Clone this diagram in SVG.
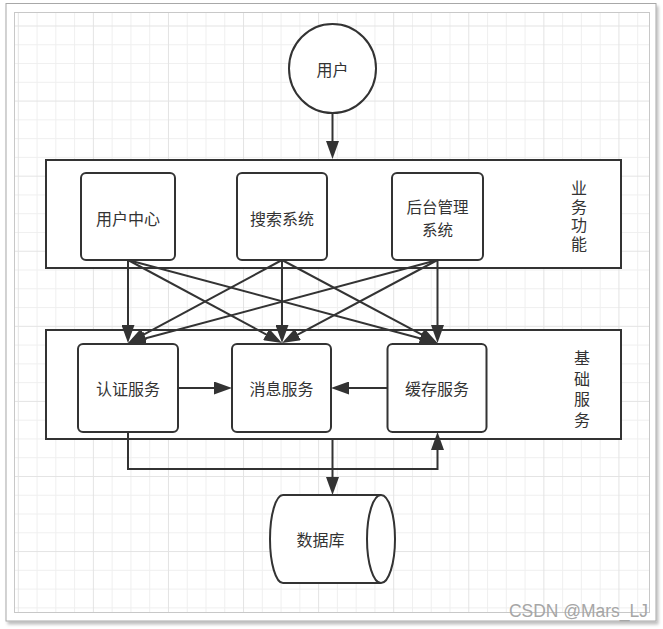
<svg xmlns="http://www.w3.org/2000/svg" width="663" height="629" viewBox="0 0 663 629">
<defs>
<style>
.box{fill:#fff;stroke:#333;stroke-width:2}
.line{fill:none;stroke:#333;stroke-width:2}
.t{font-family:"Noto Sans CJK SC","Liberation Sans",sans-serif;font-size:16px;fill:#333;text-anchor:middle;dominant-baseline:central}
.v{font-family:"Noto Sans CJK SC","Liberation Sans",sans-serif;font-size:16px;fill:#333;text-anchor:middle;writing-mode:vertical-rl}
</style>
<pattern id="grid" x="17.8" y="25.5" width="75.08" height="75.08" patternUnits="userSpaceOnUse">
<path d="M0.5,0V75.08M19.27,0V75.08M38.04,0V75.08M56.81,0V75.08M0,0.5H75.08M0,19.27H75.08M0,38.04H75.08M0,56.81H75.08" stroke="#efefef" stroke-width="1" fill="none"/>
<path d="M0.5,0V75.08M0,0.5H75.08" stroke="#e3e3e3" stroke-width="1" fill="none"/>
</pattern>
<marker id="arr" markerUnits="userSpaceOnUse" markerWidth="18" markerHeight="13" refX="14" refY="6.5" orient="auto">
<path d="M0,0L18,6.5L0,13z" fill="#333"/>
</marker>
<filter id="sh" x="-5%" y="-5%" width="110%" height="110%">
<feDropShadow dx="2" dy="3" stdDeviation="1.5" flood-color="#000" flood-opacity="0.25"/>
</filter>
</defs>
<rect x="0" y="0" width="663" height="629" fill="#fff"/>
<rect x="6" y="3.5" width="650" height="617.5" fill="#fff" stroke="#a8a8a8" stroke-width="1" filter="url(#sh)"/>
<rect x="15" y="13" width="634" height="599" fill="url(#grid)"/>
<rect x="14.5" y="12.5" width="635" height="600" fill="none" stroke="#c8c8c8" stroke-width="1"/>

<g id="user">
<ellipse class="box" cx="332.5" cy="68.5" rx="43.5" ry="44.5"/>
<text class="t" x="332.5" y="68.5">用户</text>
</g>

<g id="business">
<rect class="box" x="46" y="160" width="575" height="108"/>
<text class="v" x="579" y="217.4" letter-spacing="2.7">业务功能</text>
</g>
<g id="usercenter">
<rect class="box" x="81" y="173" width="94" height="87" rx="5"/>
<text class="t" x="128" y="217.5">用户中心</text>
</g>
<g id="search">
<rect class="box" x="237" y="173" width="90" height="87" rx="5"/>
<text class="t" x="282" y="217.5">搜索系统</text>
</g>
<g id="admin">
<rect class="box" x="392" y="173" width="91" height="87" rx="5"/>
<text class="t" x="437.5" y="206.2" style="font-size:15.5px">后台管理</text>
<text class="t" x="437.5" y="228.8" style="font-size:15.5px">系统</text>
</g>

<g id="base">
<rect class="box" x="46" y="330" width="575" height="109"/>
<text class="v" x="582" y="391.3" letter-spacing="4.5">基础服务</text>
</g>
<g id="auth">
<rect class="box" x="78" y="344" width="100" height="88" rx="5"/>
<text class="t" x="128" y="388">认证服务</text>
</g>
<g id="message">
<rect class="box" x="232" y="344" width="99" height="88" rx="5"/>
<text class="t" x="281.5" y="388">消息服务</text>
</g>
<g id="cache">
<rect class="box" x="387.5" y="344" width="99" height="88" rx="5"/>
<text class="t" x="437" y="388">缓存服务</text>
</g>

<g id="database">
<path class="box" d="M381,495H283A13,44 0 0 0 283,583H381"/>
<ellipse class="box" cx="381" cy="539" rx="14" ry="44"/>
<text class="t" x="320.5" y="539">数据库</text>
</g>

<g id="connectors">
<path class="line" d="M332.5,113V155" marker-end="url(#arr)"/>
<path class="line" d="M128,260V339" marker-end="url(#arr)"/>
<path class="line" d="M282,260V339" marker-end="url(#arr)"/>
<path class="line" d="M437.5,260V339" marker-end="url(#arr)"/>
<path class="line" d="M128,260L278.48,341.1" marker-end="url(#arr)"/>
<path class="line" d="M128,260L433.64,341.96" marker-end="url(#arr)"/>
<path class="line" d="M282,260L131.52,341.1" marker-end="url(#arr)"/>
<path class="line" d="M282,260L433.97,341.12" marker-end="url(#arr)"/>
<path class="line" d="M437.5,260L131.86,341.96" marker-end="url(#arr)"/>
<path class="line" d="M437.5,260L285.53,341.12" marker-end="url(#arr)"/>
<path class="line" d="M178,388H228" marker-end="url(#arr)"/>
<path class="line" d="M387.5,388H335" marker-end="url(#arr)"/>
<path class="line" d="M128,432V469H437.5V436" marker-end="url(#arr)"/>
<path class="line" d="M332.5,439V491" marker-end="url(#arr)"/>
</g>

<text x="648" y="617" font-family="Liberation Sans, sans-serif" font-size="18" fill="#a6a6a6" text-anchor="end" textLength="139" lengthAdjust="spacingAndGlyphs">CSDN @Mars_LJ</text>
</svg>
